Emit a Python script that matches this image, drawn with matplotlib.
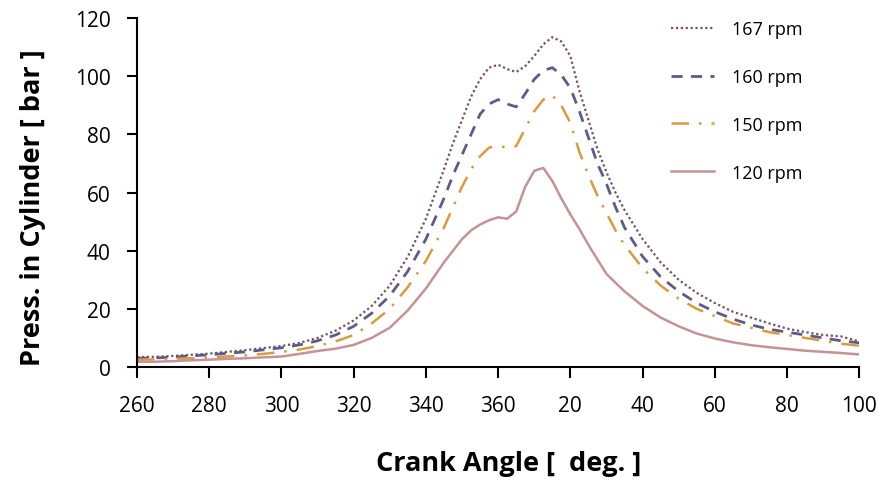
import numpy as np
import matplotlib.pyplot as plt

# crank angle, 260..460 (shown as 260..360, 20..100); finer steps around TDC
angle = ([260, 265, 270, 275, 280, 285, 290, 295, 300, 305, 310, 315, 320, 325, 330, 335, 340]
         + [345, 347.5, 350, 352.5, 355, 357.5, 360, 362.5, 365, 367.5, 370,
            372.5, 375, 377.5, 380, 382.5, 385, 387.5, 390, 392.5, 395]
         + [400, 405, 410, 415, 420, 425, 430, 435, 440, 445, 450, 455, 460])

p167 = ([3.4, 3.5, 3.8, 4.2, 4.6, 5.2, 5.8, 6.5, 7.2, 8.3, 10, 12.5, 16, 21, 28, 38, 51]
        + [68, 77, 85, 93, 99, 103, 104, 102.5, 101.5, 103.5, 107,
           111, 113.5, 112, 107, 95, 85, 75, 67, 60, 54]
        + [44, 36, 30, 25.5, 22, 19, 17, 15, 13.2, 12, 11, 10.5, 8.8])
p160 = ([3.0, 3.1, 3.4, 3.8, 4.2, 4.7, 5.2, 5.9, 6.6, 7.6, 9.0, 11, 14, 18.5, 24.5, 33, 44]
        + [58, 66, 73, 80, 87, 90.5, 92, 90.5, 89.5, 94, 99,
           102, 103, 100.5, 96, 88, 79, 70, 63, 55, 48]
        + [38, 31, 26, 22, 19, 16.5, 14.5, 13, 12, 11, 10, 9, 8.3])
p150 = ([2.5, 2.6, 2.8, 3.0, 3.3, 3.6, 4.0, 4.5, 5.2, 6.0, 7.2, 8.8, 11, 15, 20, 27.5, 36.5]
        + [48, 55, 62, 68, 72.5, 75.5, 76, 75.5, 76, 82, 88,
           92, 93.5, 90, 84, 74, 66, 59, 53, 47, 42]
        + [34, 28, 23.5, 20, 17.5, 15, 13.5, 12, 11, 10, 9, 8, 7.3])
p120 = ([1.8, 1.8, 2.0, 2.3, 2.5, 2.8, 3.0, 3.3, 3.6, 4.5, 5.5, 6.3, 7.6, 10, 13.5, 19.5, 27]
        + [36, 40, 44, 47, 49, 50.5, 51.5, 51, 53.5, 62, 67.5,
           68.5, 64, 58, 52.5, 47.5, 42, 37, 32, 29, 26]
        + [21, 17, 14, 11.5, 9.8, 8.5, 7.5, 6.8, 6.2, 5.6, 5.2, 4.8, 4.3])

xticks = np.arange(260, 461, 20)
xlabels = [str(v if v <= 360 else v - 360) for v in xticks]

plt.rcParams['font.family'] = ['Open Sans', 'DejaVu Sans']

fig = plt.figure(figsize=(8.84, 4.81), dpi=100)
ax = fig.add_axes([0.155, 0.235, 0.817, 0.725])

ax.plot(angle, p167, ls=(0, (1, 1.2)), lw=1.6, c='#7d4f5c', label='167 rpm')
ax.plot(angle, p160, ls=(0, (4, 3)), lw=2.0, c='#5b5b8c', label='160 rpm')
ax.plot(angle, p150, ls=(0, (7, 4, 1, 4)), lw=1.8, c='#dc9a3c', label='150 rpm')
ax.plot(angle, p120, ls='-', lw=1.8, c='#c49494', label='120 rpm')

ax.set_xlim(260, 460)
ax.set_ylim(0, 120)
ax.set_xticks(xticks)
ax.set_xticklabels(xlabels)
ax.set_yticks(np.arange(0, 121, 20))
ax.tick_params(axis='x', length=8, width=1.5, pad=12, labelsize=15)
ax.tick_params(axis='y', length=7, width=1.5, pad=12, labelsize=15)
for s in ['top', 'right']:
    ax.spines[s].set_visible(False)
for s in ['left', 'bottom']:
    ax.spines[s].set_linewidth(1.5)

ax.set_xlabel('Crank Angle [  deg. ]', fontsize=19.5, fontweight='bold', labelpad=25)
ax.set_ylabel('Press. in Cylinder [ bar ]', fontsize=19.5, fontweight='bold', labelpad=21)
ax.xaxis.label.set_x(0.515)
ax.yaxis.label.set_y(0.46)

ax.legend(loc='upper left', bbox_to_anchor=(0.717, 1.041), frameon=False,
          fontsize=13, handlelength=2.4, labelspacing=1.65, handletextpad=1.0)

fig.savefig('out.png', dpi=100)
